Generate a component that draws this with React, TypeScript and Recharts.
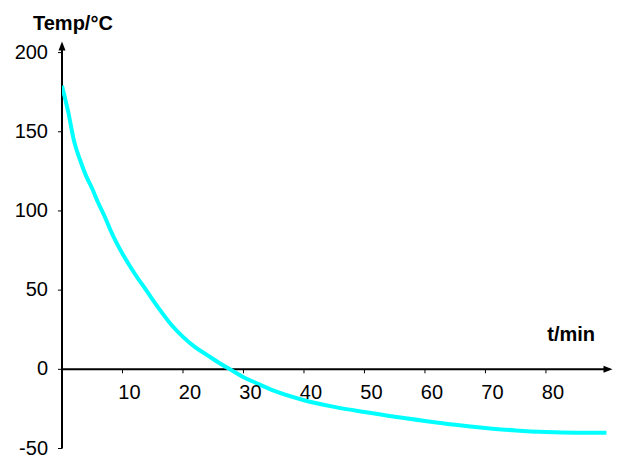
import { LineChart, Line, XAxis, YAxis, ReferenceLine } from 'recharts';

// cooling curve
const times = [0, 1, 2, 3, 4, 5, 6, 7, 8, 9, 10, 12, 14, 16, 18, 20, 22, 24, 26, 28, 30, 32, 35, 40, 45, 50, 55, 60, 65, 70, 75, 80, 85, 90];
const temps = [179, 163, 144, 132, 122, 114, 105, 97, 88, 80, 73, 60.5, 49.5, 38.5, 28.5, 20.5, 14, 9, 4, -0.5, -5, -8.5, -13.5, -19.5, -23.7, -27, -30, -32.6, -35, -37, -38.6, -39.6, -40, -40];

const xTicks = [10, 20, 30, 40, 50, 60, 70, 80];
const yTicks = [-50, 0, 50, 100, 150, 200];

const xTitle = 't/min';
const yTitle = 'Temp/°C';

const data = times.map((t, i) => ({ t, temp: temps[i] }));

const W = 622;
const H = 459;
const TOP = 41.5;
const BOTTOM = 448.5;
const Y_MIN = -50;
const Y_MAX = 207;
const zeroY = TOP + ((Y_MAX - 0) / (Y_MAX - Y_MIN)) * (BOTTOM - TOP);
const FONT = '"Liberation Sans", Arial, sans-serif';

const renderXTick = (props: any) => {
  const { x, payload } = props;
  return (
    <g key={`xt-${payload.value}`}>
      <line x1={x} x2={x} y1={zeroY} y2={zeroY + 4} stroke="#000" strokeWidth={1} />
      <text x={x + 7} y={zeroY + 30} textAnchor="middle" fontSize={20} fontFamily={FONT} fill="#000">
        {payload.value}
      </text>
    </g>
  );
};

function YArrow(props: any) {
  const { x1, y1, y2 } = props;
  const top = Math.min(y1, y2);
  const bottom = Math.max(y1, y2);
  return (
    <g>
      <line x1={x1} x2={x1} y1={top + 4} y2={bottom} stroke="#000" strokeWidth={2} />
      <polygon points={`${x1},${top} ${x1 - 3.5},${top + 9} ${x1 + 3.5},${top + 9}`} fill="#000" />
    </g>
  );
}

function XArrow(props: any) {
  const { x1, x2, y1 } = props;
  const left = Math.min(x1, x2);
  const right = Math.max(x1, x2);
  return (
    <g>
      <line x1={left} x2={right - 4} y1={y1} y2={y1} stroke="#000" strokeWidth={2} />
      <polygon points={`${right},${y1} ${right - 9},${y1 - 3.5} ${right - 9},${y1 + 3.5}`} fill="#000" />
    </g>
  );
}

export default function App() {
  return (
    <div style={{ position: 'absolute', left: 0, top: 0, width: W, height: H, background: '#fff' }}>
      <LineChart width={W} height={H} data={data} margin={{ top: TOP, right: 9.5, left: 0, bottom: H - BOTTOM - 1 }}>
        <XAxis
          dataKey="t"
          type="number"
          domain={[0, 91]}
          ticks={xTicks}
          height={1}
          interval={0}
          axisLine={false}
          tickLine={false}
          tick={renderXTick}
          allowDataOverflow
        />
        <YAxis
          type="number"
          domain={[Y_MIN, Y_MAX]}
          ticks={yTicks}
          width={62}
          interval={0}
          axisLine={false}
          tickLine={{ stroke: '#000' }}
          tickSize={4}
          tickMargin={10}
          tick={{ fill: '#000', fontSize: 20, fontFamily: FONT, dy: -1 }}
          allowDataOverflow
        />
        <ReferenceLine x={0} shape={<YArrow />} />
        <ReferenceLine y={0} shape={<XArrow />} />
        <Line
          type="monotone"
          dataKey="temp"
          stroke="#00ffff"
          strokeWidth={4}
          dot={false}
          isAnimationActive={false}
        />
      </LineChart>
      <svg width={W} height={H} style={{ position: 'absolute', left: 0, top: 0, pointerEvents: 'none' }}>
        <text x={33} y={29.5} fontSize={20} fontWeight="bold" fontFamily={FONT} fill="#000">
          {yTitle}
        </text>
        <text x={595} y={341} textAnchor="end" fontSize={20} fontWeight="bold" fontFamily={FONT} fill="#000">
          {xTitle}
        </text>
      </svg>
    </div>
  );
}
